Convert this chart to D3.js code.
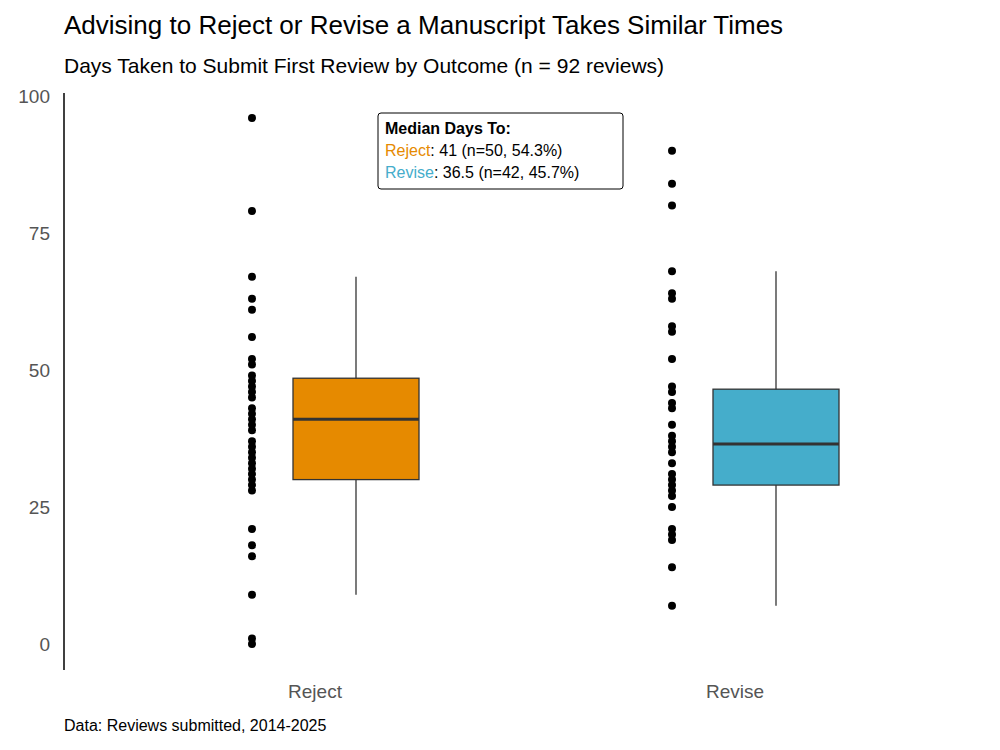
<!DOCTYPE html>
<html><head><meta charset="utf-8">
<script src="https://cdn.jsdelivr.net/npm/d3@7"></script>
<style>body{margin:0;background:#fff;font-family:"Liberation Sans",Arial,sans-serif}</style>
</head><body><div id="chart"></div>
<script>
var categories = ['Reject', 'Revise']
var colors = ['#E68A00', '#45ADCB']
var rejectDays = [96, 79, 67, 63, 61, 56, 52, 51, 49, 48, 47, 46, 45, 43, 42, 41, 40, 39, 37, 36, 35, 34, 33, 32, 31, 30, 29, 28, 21, 18, 16, 9, 1, 0]
var reviseDays = [90, 84, 80, 68, 64, 63, 58, 57, 52, 47, 46, 44, 43, 40, 38, 37, 36, 35, 33, 31, 30, 29, 28, 27, 25, 21, 20, 19, 14, 7]
// lower whisker, q1, median, q3, upper whisker
var boxStats = [[9, 30, 41, 48.5, 67], [7, 29, 36.5, 46.5, 68]]
var yTicks = [0, 25, 50, 75, 100]

var width = 1000, height = 750
var svg = d3.select('#chart').append('svg').attr('width', width).attr('height', height)

var y = d3.scaleLinear().domain([0, 100]).range([644, 96])
var x = d3.scaleBand().domain(categories).range([105, 945])
var bw = x.bandwidth()

// axis
svg.append('line').attr('x1', 64).attr('x2', 64).attr('y1', 93).attr('y2', 670)
  .attr('stroke', '#000').attr('stroke-width', 1.5)
svg.selectAll('.yt').data(yTicks).enter().append('text')
  .attr('x', 50).attr('y', function (d) { return y(d) }).attr('dy', '0.35em')
  .attr('text-anchor', 'end').attr('fill', '#555').attr('font-size', 19)
  .text(function (d) { return d })
svg.selectAll('.xt').data(categories).enter().append('text')
  .attr('x', function (d) { return x(d) + bw / 2 }).attr('y', 698)
  .attr('text-anchor', 'middle').attr('fill', '#555').attr('font-size', 19)
  .text(function (d) { return d })

// boxes
var g = svg.selectAll('.box').data(categories).enter().append('g')
  .attr('transform', function (d) { return 'translate(' + (x(d) + bw / 2 + 41) + ',0)' })
g.append('line').attr('x1', 0).attr('x2', 0)
  .attr('y1', function (d, i) { return y(boxStats[i][0]) })
  .attr('y2', function (d, i) { return y(boxStats[i][4]) })
  .attr('stroke', '#333').attr('stroke-width', 1.3)
g.append('rect').attr('x', -63).attr('width', 126)
  .attr('y', function (d, i) { return y(boxStats[i][3]) })
  .attr('height', function (d, i) { return y(boxStats[i][1]) - y(boxStats[i][3]) })
  .attr('fill', function (d, i) { return colors[i] }).attr('stroke', '#333').attr('stroke-width', 1.3)
g.append('line').attr('x1', -63).attr('x2', 63)
  .attr('y1', function (d, i) { return y(boxStats[i][2]) })
  .attr('y2', function (d, i) { return y(boxStats[i][2]) })
  .attr('stroke', '#333').attr('stroke-width', 3)

// dots
;[rejectDays, reviseDays].forEach(function (arr, i) {
  svg.selectAll('.d' + i).data(arr).enter().append('circle')
    .attr('cx', x(categories[i]) + bw / 2 - 63)
    .attr('cy', function (d) { return y(d) })
    .attr('r', 4).attr('fill', '#000')
})

// annotation
svg.append('rect').attr('x', 378).attr('y', 113).attr('width', 245).attr('height', 76)
  .attr('rx', 3).attr('fill', '#fff').attr('stroke', '#000')
svg.append('text').attr('x', 385).attr('y', 134).attr('font-size', 16).attr('font-weight', 'bold').text('Median Days To:')
var t1 = svg.append('text').attr('x', 385).attr('y', 156).attr('font-size', 16)
t1.append('tspan').attr('fill', colors[0]).text('Reject')
t1.append('tspan').text(': 41 (n=50, 54.3%)')
var t2 = svg.append('text').attr('x', 385).attr('y', 178).attr('font-size', 16)
t2.append('tspan').attr('fill', colors[1]).text('Revise')
t2.append('tspan').text(': 36.5 (n=42, 45.7%)')

// titles
svg.append('text').attr('x', 64).attr('y', 34).attr('font-size', 26).text('Advising to Reject or Revise a Manuscript Takes Similar Times')
svg.append('text').attr('x', 64).attr('y', 73).attr('font-size', 21).text('Days Taken to Submit First Review by Outcome (n = 92 reviews)')
svg.append('text').attr('x', 64).attr('y', 731).attr('font-size', 16).text('Data: Reviews submitted, 2014-2025')
</script></body></html>
